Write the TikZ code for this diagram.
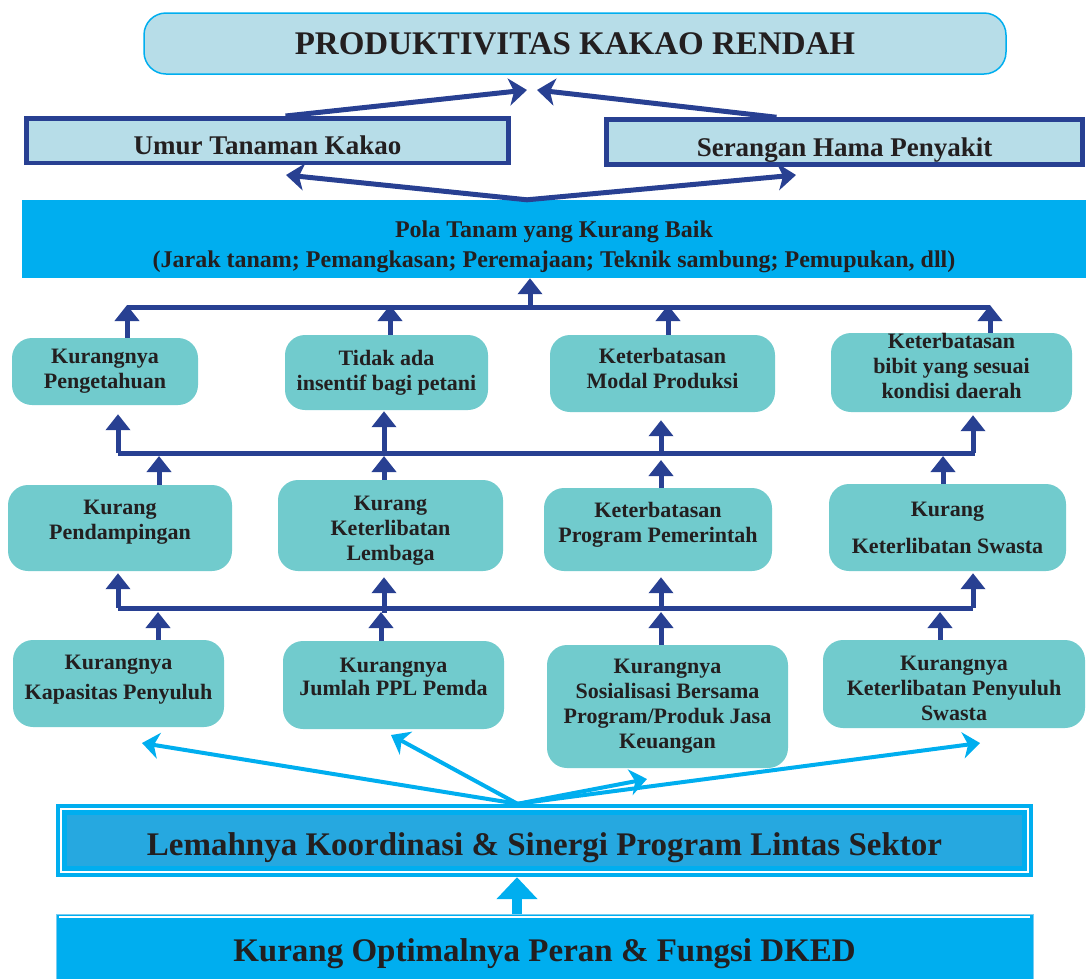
\documentclass[tikz,border=0pt]{standalone}
\usepackage{fontspec}
\setmainfont{Liberation Serif}
\usetikzlibrary{arrows.meta,calc}
\definecolor{navy}{RGB}{40,64,146}
\definecolor{paleblue}{RGB}{183,221,232}
\definecolor{tealbox}{RGB}{113,203,205}
\definecolor{sky}{RGB}{0,174,239}
\definecolor{skydark}{RGB}{38,168,224}
\definecolor{skylight}{RGB}{120,205,242}
\definecolor{ink}{RGB}{35,31,32}
\tikzset{cause/.style={fill=tealbox,rounded corners=20pt,align=center,text=ink,inner sep=0pt,
           font=\bfseries\fontsize{22}{25}\selectfont},
         effect/.style={draw=navy,line width=4.5pt,fill=paleblue,text=ink,inner sep=0pt,
           font=\bfseries\fontsize{27}{30}\selectfont},
         bus/.style={navy,line width=5pt},
         up/.style={navy,line width=5pt,-{Triangle[width=24pt,length=16pt]}},
         fork/.style={navy,line width=5pt,-{Stealth[width=27pt,length=18pt,inset=5pt]}},
         spray/.style={sky,line width=4pt,-{Stealth[width=26pt,length=17pt,inset=5pt]}},
         push/.style={sky,line width=10pt,-{Triangle[width=40pt,length=22pt]}}
}

\begin{document}
\begin{tikzpicture}[x=1pt,y=-1pt]
\useasboundingbox (0,0) rectangle (1086,978);

\node[draw=sky,line width=1.5pt,fill=paleblue,rounded corners=22pt,minimum width=862pt,minimum height=61pt,
      text=ink,font=\bfseries\fontsize{33}{36}\selectfont] (title) at (575,43.5) {PRODUKTIVITAS KAKAO RENDAH};
\node[effect,minimum width=482pt,minimum height=44.5pt,text height=28pt] (age) at (267.5,140.5) {Umur Tanaman Kakao};
\node[effect,minimum width=476pt,minimum height=45pt,text height=34pt] (pest) at (844.5,142) {Serangan Hama Penyakit};
\node[fill=sky,minimum width=1064pt,minimum height=78pt,align=center,text=ink,inner sep=0pt,text height=62pt,
      font=\bfseries\fontsize{24}{30}\selectfont] (pattern) at (554,239)
      {Pola Tanam yang Kurang Baik\\(Jarak tanam; Pemangkasan; Peremajaan; Teknik sambung; Pemupukan, dll)};

\node[cause,minimum width=186pt,minimum height=67pt] (know) at (105,371.5) {Kurangnya\\Pengetahuan};
\node[cause,minimum width=203pt,minimum height=75pt] (incent) at (386.5,372.5) {Tidak ada\\insentif bagi petani};
\node[cause,minimum width=225pt,minimum height=77pt,text height=30pt] (capital) at (662.5,373.5) {Keterbatasan\\Modal Produksi};
\node[cause,minimum width=241pt,minimum height=79pt,text height=53pt] (seed) at (951.5,372.5) {Keterbatasan\\bibit yang sesuai\\kondisi daerah};

\node[cause,minimum width=224pt,minimum height=86pt,text height=28pt] (assist) at (120,528) {Kurang\\Pendampingan};
\node[cause,minimum width=225pt,minimum height=91pt,text height=75pt] (inst) at (390.5,525.5) {Kurang\\Keterlibatan\\Lembaga};
\node[cause,minimum width=228pt,minimum height=83pt,text height=30pt] (govt) at (658,529.5) {Keterbatasan\\Program Pemerintah};
\node[cause,minimum width=237pt,minimum height=87pt] (private) at (947.5,527.5) {Kurang\\[12pt]Keterlibatan Swasta};

\node[cause,minimum width=211pt,minimum height=87pt,text height=37pt] (capac) at (118.5,683.5) {Kurangnya\\[5pt]Kapasitas Penyuluh};
\node[cause,minimum width=221pt,minimum height=88pt,text height=21pt] (ppl) at (393.5,685) {Kurangnya\\[-2pt]Jumlah PPL Pemda};
\node[cause,minimum width=241pt,minimum height=123pt] (social) at (667.5,706.5) {Kurangnya\\Sosialisasi Bersama\\Program/Produk Jasa\\Keuangan};
\node[cause,minimum width=262pt,minimum height=88pt,text height=73pt] (extpriv) at (954,684) {Kurangnya\\Keterlibatan Penyuluh\\Swasta};

\node[fill=sky,minimum width=977pt,minimum height=73pt,text=ink,inner sep=0pt,text height=38pt,
      font=\bfseries\fontsize{33}{36}\selectfont,
      path picture={
        \draw[white,line width=1.5pt] ([shift={(5,5)}]path picture bounding box.north west)
             rectangle ([shift={(-5,-5)}]path picture bounding box.south east);
        \fill[skydark] ([shift={(11,11)}]path picture bounding box.north west)
             rectangle ([shift={(-11,-11)}]path picture bounding box.south east);}]
      (coord) at (544.5,840.5) {Lemahnya Koordinasi \& Sinergi Program Lintas Sektor};
\node[draw=skylight,line width=1pt,fill=sky,minimum width=977pt,minimum height=76pt,text=ink,inner sep=0pt,
      text height=26pt,font=\bfseries\fontsize{33}{36}\selectfont,
      path picture={
        \draw[white,line width=1.2pt] ([shift={(3,3)}]path picture bounding box.north west)
             -- ([shift={(-3,3)}]path picture bounding box.north east);}]
      (dked) at (544.5,952) {Kurang Optimalnya Peran \& Fungsi DKED};

\coordinate (titleL) at (527,90);
\coordinate (titleR) at (537,90);
\coordinate (ageTip) at (286,175);
\coordinate (pestTip) at (796,175);
\draw[fork] ([xshift=18pt]age.north) -- (titleL);
\draw[fork] ([xshift=-68pt]pest.north) -- (titleR);
\draw[fork] ([xshift=-27pt]pattern.north) -- (ageTip);
\draw[fork] ([xshift=-27pt]pattern.north) -- (pestTip);

\coordinate (b1w) at (127,307);
\coordinate (b1e) at (990,307);
\coordinate (b1m) at (530,307);
\coordinate (u2) at (390,307);
\coordinate (u3) at (668,307);
\draw[bus] (b1w) -- (b1e);
\draw[up] (b1m) -- (pattern.south -| b1m);
\draw[up] (know.north -| b1w) -- ([yshift=2pt]b1w);
\draw[up] (incent.north -| u2) -- ([yshift=2pt]u2);
\draw[up] (capital.north -| u3) -- ([yshift=2pt]u3);
\draw[up] (seed.north -| b1e) -- ([yshift=2pt]b1e);

\coordinate (b2w) at (118,453);
\coordinate (b2e) at (975,453);
\coordinate (v2) at (384,453);
\coordinate (v3) at (661,453);
\coordinate (v4) at (973,453);
\coordinate (w1) at (159,453);
\coordinate (w4) at (943,453);
\draw[bus] (b2w) -- (b2e);
\draw[up] (b2w) -- ([yshift=-9pt]know.south -| b2w);
\draw[up] (v2) -- ([yshift=-1pt]incent.south -| v2);
\draw[up] (v3) -- ([yshift=-8pt]capital.south -| v3);
\draw[up] (v4) -- ([yshift=-3pt]seed.south -| v4);
\draw[up] (assist.north -| w1) -- ([yshift=-3pt]w1);
\draw[up] (inst.north -| v2) -- ([yshift=-3pt]v2);
\draw[up] (govt.north -| v3) -- ([yshift=-7pt]v3);
\draw[up] (private.north -| w4) -- ([yshift=-3pt]w4);

\coordinate (b3w) at (118,608);
\coordinate (b3e) at (973,608);
\coordinate (x2) at (384,608);
\coordinate (x3) at (661,608);
\coordinate (y1) at (158,608);
\coordinate (y2) at (381,608);
\coordinate (y4) at (940,608);
\draw[bus] (b3w) -- (b3e);
\draw[up] (b3w) -- ([yshift=-2pt]assist.south -| b3w);
\draw[up] ([yshift=-5pt]x2) -- ([yshift=-6pt]inst.south -| x2);
\draw[up] (x3) -- ([yshift=-6pt]govt.south -| x3);
\draw[up] (b3e) -- ([yshift=-2pt]private.south -| b3e);
\draw[up] (capac.north -| y1) -- ([yshift=-4pt]y1);
\draw[up] (ppl.north -| y2) -- ([yshift=-4pt]y2);
\draw[up] (social.north -| x3) -- ([yshift=-4pt]x3);
\draw[up] (extpriv.north -| y4) -- ([yshift=-4pt]y4);

\coordinate (capacTip) at (142,743);
\coordinate (pplTip) at (391,735);
\coordinate (socialTip) at (647,779);
\coordinate (extTip) at (980,743);
\draw[spray] ([xshift=-27pt]coord.north) -- (capacTip);
\draw[spray] ([xshift=-27pt]coord.north) -- (pplTip);
\draw[spray] ([xshift=-27pt]coord.north) -- (socialTip);
\draw[spray] ([xshift=-27pt]coord.north) -- (extTip);
\draw[push] ([xshift=-27.5pt]dked.north) -- ([xshift=-27.5pt]coord.south);
\end{tikzpicture}
\end{document}
